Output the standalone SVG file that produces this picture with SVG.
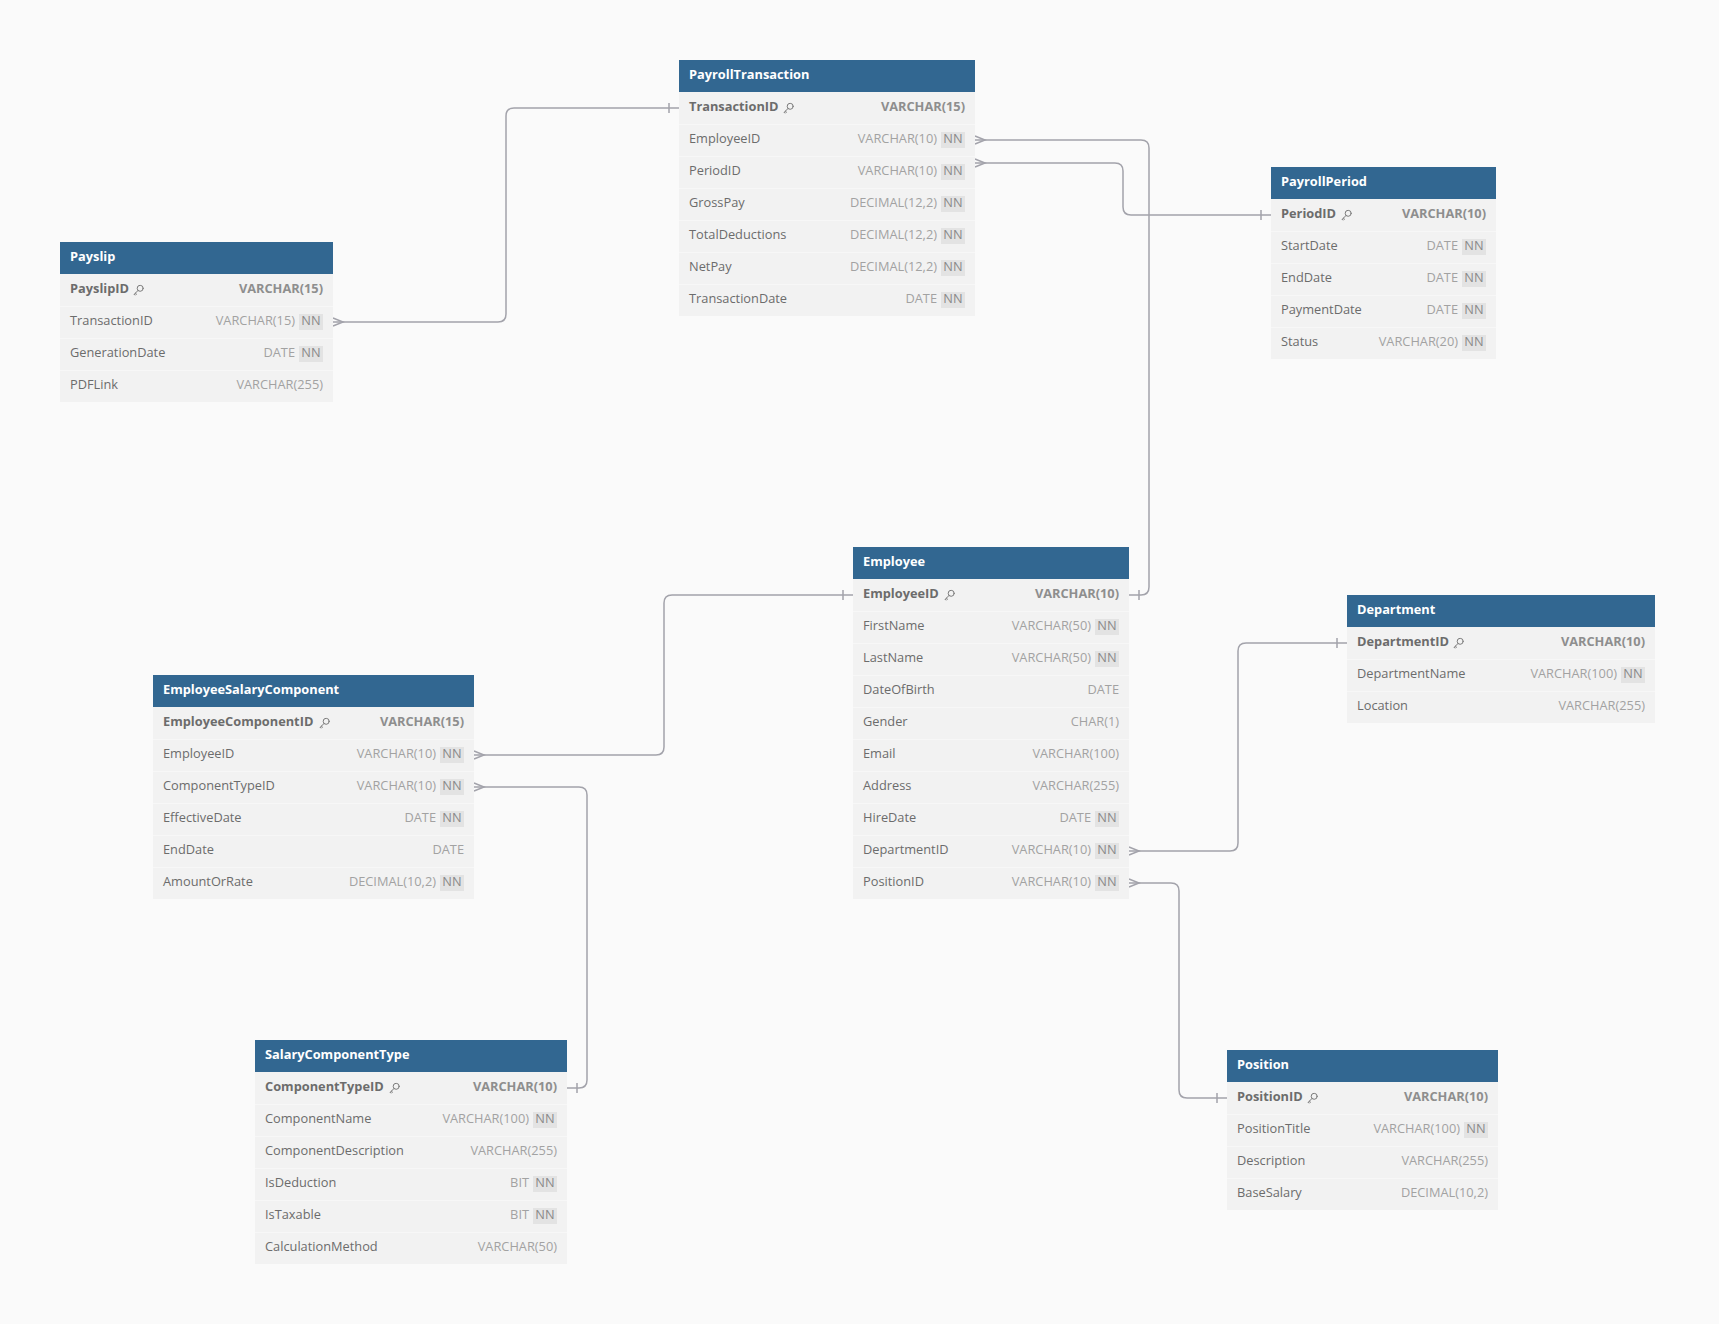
<svg xmlns="http://www.w3.org/2000/svg" xmlns:xlink="http://www.w3.org/1999/xlink" width="1719" height="1324" viewBox="0 0 1719 1324">
<style>
.bg{fill:#fafafa}
.hdr{fill:#326791}
.body{fill:#f2f2f2}
.sep{stroke:#f7f7f7;stroke-width:1}
text{font-family:"Open Sans","Liberation Sans",sans-serif;font-size:12.8px}
.title{font-weight:700;fill:#ffffff}
.name{fill:#6c6c6c}
.pk{font-weight:700;fill:#6c6c6c}
.type{fill:#a2a2a2;text-anchor:end}
.pkt{font-weight:700;fill:#8e8e8e;text-anchor:end}
.nnb{fill:#e3e3e3}
.nnt{fill:#8a8a8a;text-anchor:middle}
.conn{stroke:#a3a3ab;stroke-width:1.5;fill:none}
.keyi{stroke:#7a7a7a;stroke-width:1;fill:none;stroke-linecap:round}
</style>
<defs>
<symbol id="key" viewBox="0 0 11 11" width="11" height="11">
<circle class="keyi" cx="7.2" cy="3.8" r="3"/>
<path class="keyi" d="M5.1 5.9 L1 10 L2.4 10.6 M2.4 8.6 L3.6 9.8"/>
</symbol>
</defs>
<rect class="bg" x="0" y="0" width="1719" height="1324"/>

<g id="connectors">
<path class="conn" d="M333 322 H498 Q506 322 506 314 V116 Q506 108 514 108 H679"/>
<path class="conn" d="M333 318 L343 322 L333 326 M669 103 V113"/>
<path class="conn" d="M975 140 H1141 Q1149 140 1149 148 V587 Q1149 595 1141 595 H1129"/>
<path class="conn" d="M975 136 L985 140 L975 144 M1139 590 V600"/>
<path class="conn" d="M975 163 H1115 Q1123 163 1123 171 V207 Q1123 215 1131 215 H1271"/>
<path class="conn" d="M975 159 L985 163 L975 167 M1261 210 V220"/>
<path class="conn" d="M474 755 H656 Q664 755 664 747 V603 Q664 595 672 595 H853"/>
<path class="conn" d="M474 751 L484 755 L474 759 M843 590 V600"/>
<path class="conn" d="M474 787 H579 Q587 787 587 795 V1080 Q587 1088 579 1088 H567"/>
<path class="conn" d="M474 783 L484 787 L474 791 M577 1083 V1093"/>
<path class="conn" d="M1129 851 H1230 Q1238 851 1238 843 V651 Q1238 643 1246 643 H1347"/>
<path class="conn" d="M1129 847 L1139 851 L1129 855 M1337 638 V648"/>
<path class="conn" d="M1129 883 H1171 Q1179 883 1179 891 V1090 Q1179 1098 1187 1098 H1227"/>
<path class="conn" d="M1129 879 L1139 883 L1129 887 M1217 1093 V1103"/>
</g>

<g id="PayrollTransaction">
<rect class="hdr" x="679" y="60" width="296" height="32"/>
<rect class="body" x="679" y="92" width="296" height="224"/>
<path class="sep" d="M679 124.5H975M679 156.5H975M679 188.5H975M679 220.5H975M679 252.5H975M679 284.5H975"/>
<text class="title" x="689" y="79">PayrollTransaction</text>
<text class="pk" x="689" y="111">TransactionID</text><use href="#key" x="783" y="102.5"/><text class="pkt" x="965" y="111">VARCHAR(15)</text>
<text class="name" x="689" y="143">EmployeeID</text><text class="type" x="937" y="143">VARCHAR(10)</text><rect class="nnb" x="941" y="132" width="24" height="16"/><text class="nnt" x="953" y="143">NN</text>
<text class="name" x="689" y="175">PeriodID</text><text class="type" x="937" y="175">VARCHAR(10)</text><rect class="nnb" x="941" y="164" width="24" height="16"/><text class="nnt" x="953" y="175">NN</text>
<text class="name" x="689" y="207">GrossPay</text><text class="type" x="937" y="207">DECIMAL(12,2)</text><rect class="nnb" x="941" y="196" width="24" height="16"/><text class="nnt" x="953" y="207">NN</text>
<text class="name" x="689" y="239">TotalDeductions</text><text class="type" x="937" y="239">DECIMAL(12,2)</text><rect class="nnb" x="941" y="228" width="24" height="16"/><text class="nnt" x="953" y="239">NN</text>
<text class="name" x="689" y="271">NetPay</text><text class="type" x="937" y="271">DECIMAL(12,2)</text><rect class="nnb" x="941" y="260" width="24" height="16"/><text class="nnt" x="953" y="271">NN</text>
<text class="name" x="689" y="303">TransactionDate</text><text class="type" x="937" y="303">DATE</text><rect class="nnb" x="941" y="292" width="24" height="16"/><text class="nnt" x="953" y="303">NN</text>
</g>

<g id="Payslip">
<rect class="hdr" x="60" y="242" width="273" height="32"/>
<rect class="body" x="60" y="274" width="273" height="128"/>
<path class="sep" d="M60 306.5H333M60 338.5H333M60 370.5H333"/>
<text class="title" x="70" y="261">Payslip</text>
<text class="pk" x="70" y="293">PayslipID</text><use href="#key" x="133" y="284.5"/><text class="pkt" x="323" y="293">VARCHAR(15)</text>
<text class="name" x="70" y="325">TransactionID</text><text class="type" x="295" y="325">VARCHAR(15)</text><rect class="nnb" x="299" y="314" width="24" height="16"/><text class="nnt" x="311" y="325">NN</text>
<text class="name" x="70" y="357">GenerationDate</text><text class="type" x="295" y="357">DATE</text><rect class="nnb" x="299" y="346" width="24" height="16"/><text class="nnt" x="311" y="357">NN</text>
<text class="name" x="70" y="389">PDFLink</text><text class="type" x="323" y="389">VARCHAR(255)</text>
</g>

<g id="PayrollPeriod">
<rect class="hdr" x="1271" y="167" width="225" height="32"/>
<rect class="body" x="1271" y="199" width="225" height="160"/>
<path class="sep" d="M1271 231.5H1496M1271 263.5H1496M1271 295.5H1496M1271 327.5H1496"/>
<text class="title" x="1281" y="186">PayrollPeriod</text>
<text class="pk" x="1281" y="218">PeriodID</text><use href="#key" x="1341" y="209.5"/><text class="pkt" x="1486" y="218">VARCHAR(10)</text>
<text class="name" x="1281" y="250">StartDate</text><text class="type" x="1458" y="250">DATE</text><rect class="nnb" x="1462" y="239" width="24" height="16"/><text class="nnt" x="1474" y="250">NN</text>
<text class="name" x="1281" y="282">EndDate</text><text class="type" x="1458" y="282">DATE</text><rect class="nnb" x="1462" y="271" width="24" height="16"/><text class="nnt" x="1474" y="282">NN</text>
<text class="name" x="1281" y="314">PaymentDate</text><text class="type" x="1458" y="314">DATE</text><rect class="nnb" x="1462" y="303" width="24" height="16"/><text class="nnt" x="1474" y="314">NN</text>
<text class="name" x="1281" y="346">Status</text><text class="type" x="1458" y="346">VARCHAR(20)</text><rect class="nnb" x="1462" y="335" width="24" height="16"/><text class="nnt" x="1474" y="346">NN</text>
</g>

<g id="Employee">
<rect class="hdr" x="853" y="547" width="276" height="32"/>
<rect class="body" x="853" y="579" width="276" height="320"/>
<path class="sep" d="M853 611.5H1129M853 643.5H1129M853 675.5H1129M853 707.5H1129M853 739.5H1129M853 771.5H1129M853 803.5H1129M853 835.5H1129M853 867.5H1129"/>
<text class="title" x="863" y="566">Employee</text>
<text class="pk" x="863" y="598">EmployeeID</text><use href="#key" x="944" y="589.5"/><text class="pkt" x="1119" y="598">VARCHAR(10)</text>
<text class="name" x="863" y="630">FirstName</text><text class="type" x="1091" y="630">VARCHAR(50)</text><rect class="nnb" x="1095" y="619" width="24" height="16"/><text class="nnt" x="1107" y="630">NN</text>
<text class="name" x="863" y="662">LastName</text><text class="type" x="1091" y="662">VARCHAR(50)</text><rect class="nnb" x="1095" y="651" width="24" height="16"/><text class="nnt" x="1107" y="662">NN</text>
<text class="name" x="863" y="694">DateOfBirth</text><text class="type" x="1119" y="694">DATE</text>
<text class="name" x="863" y="726">Gender</text><text class="type" x="1119" y="726">CHAR(1)</text>
<text class="name" x="863" y="758">Email</text><text class="type" x="1119" y="758">VARCHAR(100)</text>
<text class="name" x="863" y="790">Address</text><text class="type" x="1119" y="790">VARCHAR(255)</text>
<text class="name" x="863" y="822">HireDate</text><text class="type" x="1091" y="822">DATE</text><rect class="nnb" x="1095" y="811" width="24" height="16"/><text class="nnt" x="1107" y="822">NN</text>
<text class="name" x="863" y="854">DepartmentID</text><text class="type" x="1091" y="854">VARCHAR(10)</text><rect class="nnb" x="1095" y="843" width="24" height="16"/><text class="nnt" x="1107" y="854">NN</text>
<text class="name" x="863" y="886">PositionID</text><text class="type" x="1091" y="886">VARCHAR(10)</text><rect class="nnb" x="1095" y="875" width="24" height="16"/><text class="nnt" x="1107" y="886">NN</text>
</g>

<g id="EmployeeSalaryComponent">
<rect class="hdr" x="153" y="675" width="321" height="32"/>
<rect class="body" x="153" y="707" width="321" height="192"/>
<path class="sep" d="M153 739.5H474M153 771.5H474M153 803.5H474M153 835.5H474M153 867.5H474"/>
<text class="title" x="163" y="694">EmployeeSalaryComponent</text>
<text class="pk" x="163" y="726">EmployeeComponentID</text><use href="#key" x="319" y="717.5"/><text class="pkt" x="464" y="726">VARCHAR(15)</text>
<text class="name" x="163" y="758">EmployeeID</text><text class="type" x="436" y="758">VARCHAR(10)</text><rect class="nnb" x="440" y="747" width="24" height="16"/><text class="nnt" x="452" y="758">NN</text>
<text class="name" x="163" y="790">ComponentTypeID</text><text class="type" x="436" y="790">VARCHAR(10)</text><rect class="nnb" x="440" y="779" width="24" height="16"/><text class="nnt" x="452" y="790">NN</text>
<text class="name" x="163" y="822">EffectiveDate</text><text class="type" x="436" y="822">DATE</text><rect class="nnb" x="440" y="811" width="24" height="16"/><text class="nnt" x="452" y="822">NN</text>
<text class="name" x="163" y="854">EndDate</text><text class="type" x="464" y="854">DATE</text>
<text class="name" x="163" y="886">AmountOrRate</text><text class="type" x="436" y="886">DECIMAL(10,2)</text><rect class="nnb" x="440" y="875" width="24" height="16"/><text class="nnt" x="452" y="886">NN</text>
</g>

<g id="SalaryComponentType">
<rect class="hdr" x="255" y="1040" width="312" height="32"/>
<rect class="body" x="255" y="1072" width="312" height="192"/>
<path class="sep" d="M255 1104.5H567M255 1136.5H567M255 1168.5H567M255 1200.5H567M255 1232.5H567"/>
<text class="title" x="265" y="1059">SalaryComponentType</text>
<text class="pk" x="265" y="1091">ComponentTypeID</text><use href="#key" x="389" y="1082.5"/><text class="pkt" x="557" y="1091">VARCHAR(10)</text>
<text class="name" x="265" y="1123">ComponentName</text><text class="type" x="529" y="1123">VARCHAR(100)</text><rect class="nnb" x="533" y="1112" width="24" height="16"/><text class="nnt" x="545" y="1123">NN</text>
<text class="name" x="265" y="1155">ComponentDescription</text><text class="type" x="557" y="1155">VARCHAR(255)</text>
<text class="name" x="265" y="1187">IsDeduction</text><text class="type" x="529" y="1187">BIT</text><rect class="nnb" x="533" y="1176" width="24" height="16"/><text class="nnt" x="545" y="1187">NN</text>
<text class="name" x="265" y="1219">IsTaxable</text><text class="type" x="529" y="1219">BIT</text><rect class="nnb" x="533" y="1208" width="24" height="16"/><text class="nnt" x="545" y="1219">NN</text>
<text class="name" x="265" y="1251">CalculationMethod</text><text class="type" x="557" y="1251">VARCHAR(50)</text>
</g>

<g id="Department">
<rect class="hdr" x="1347" y="595" width="308" height="32"/>
<rect class="body" x="1347" y="627" width="308" height="96"/>
<path class="sep" d="M1347 659.5H1655M1347 691.5H1655"/>
<text class="title" x="1357" y="614">Department</text>
<text class="pk" x="1357" y="646">DepartmentID</text><use href="#key" x="1453" y="637.5"/><text class="pkt" x="1645" y="646">VARCHAR(10)</text>
<text class="name" x="1357" y="678">DepartmentName</text><text class="type" x="1617" y="678">VARCHAR(100)</text><rect class="nnb" x="1621" y="667" width="24" height="16"/><text class="nnt" x="1633" y="678">NN</text>
<text class="name" x="1357" y="710">Location</text><text class="type" x="1645" y="710">VARCHAR(255)</text>
</g>

<g id="Position">
<rect class="hdr" x="1227" y="1050" width="271" height="32"/>
<rect class="body" x="1227" y="1082" width="271" height="128"/>
<path class="sep" d="M1227 1114.5H1498M1227 1146.5H1498M1227 1178.5H1498"/>
<text class="title" x="1237" y="1069">Position</text>
<text class="pk" x="1237" y="1101">PositionID</text><use href="#key" x="1307" y="1092.5"/><text class="pkt" x="1488" y="1101">VARCHAR(10)</text>
<text class="name" x="1237" y="1133">PositionTitle</text><text class="type" x="1460" y="1133">VARCHAR(100)</text><rect class="nnb" x="1464" y="1122" width="24" height="16"/><text class="nnt" x="1476" y="1133">NN</text>
<text class="name" x="1237" y="1165">Description</text><text class="type" x="1488" y="1165">VARCHAR(255)</text>
<text class="name" x="1237" y="1197">BaseSalary</text><text class="type" x="1488" y="1197">DECIMAL(10,2)</text>
</g>
</svg>
